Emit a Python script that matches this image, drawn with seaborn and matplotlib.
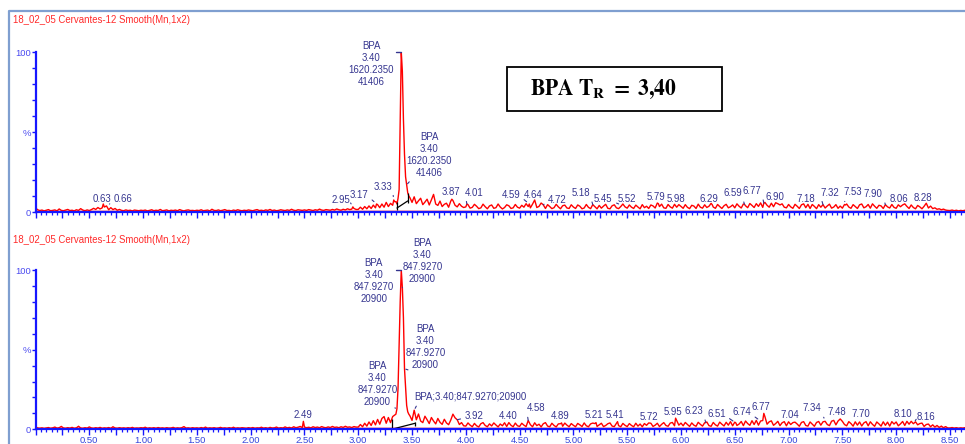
import numpy as np
import pandas as pd
import matplotlib
matplotlib.use("Agg")
import matplotlib.pyplot as plt
import seaborn as sns
from matplotlib.ticker import MultipleLocator, FixedLocator, FuncFormatter
from matplotlib.patches import Rectangle
from matplotlib.lines import Line2D

sns.set_style("white")
plt.rcParams["font.family"] = ["Liberation Sans", "DejaVu Sans"]
plt.rcParams["mathtext.fontset"] = "stix"

# ---------------- data ----------------
TITLE = "18_02_05 Cervantes-12 Smooth(Mn,1x2)"
COMPOUND = "BPA"
SCAN_STEP = 0.02          # min between stored scans
RT_MAX = 8.64

# chromatogram 1 (relative intensity, %), one scan every 0.02 min from 0.00
top_scans = [
    2.6, 1.4, 0.9, 1.2, 0.7, 1.1, 1.5, 0.8, 1.0, 1.3, 0.7, 1.9, 1.0, 0.8, 1.2, 1.6, 0.9, 1.1, 0.7, 1.4, 1.0, 2.1, 1.2, 0.8, 1.3,
    0.9, 1.5, 2.3, 1.6, 2.8, 1.9, 2.6, 3.1, 2.2, 1.4, 2.7, 1.5, 2.2, 1.1, 1.6, 1.0, 0.8, 1.3, 0.9, 1.1, 0.7, 1.2, 1.0, 0.8, 1.1,
    0.9, 1.2, 0.7, 1.0, 1.4, 0.8, 1.1, 0.9, 1.6, 0.8, 1.0, 1.3, 0.7, 1.1, 0.9, 1.2, 0.8, 1.5, 1.0, 0.7, 1.1, 1.3, 0.9, 1.0, 0.8,
    1.1, 0.9, 1.4, 0.8, 1.0, 1.2, 0.7, 1.7, 1.0, 0.9, 1.3, 0.8, 1.1, 1.5, 0.9, 1.0, 0.7, 1.2, 0.9, 1.4, 1.0, 0.8, 1.1, 0.9, 1.3,
    1.0, 0.8, 1.2, 1.5, 0.9, 1.1, 0.8, 1.3, 1.0, 1.6, 0.9, 1.2, 0.8, 1.0, 1.4, 1.1, 0.9, 1.3, 1.0, 1.7, 1.1, 0.9, 1.4, 1.2, 1.0,
    1.3, 1.0, 1.5, 1.2, 0.9, 1.4, 1.1, 1.8, 1.2, 1.0, 1.5, 1.3, 1.1, 1.6, 1.2, 1.9, 1.4, 1.1, 1.7, 1.3, 2.0, 1.5, 1.8, 2.2, 1.6,
    1.6, 3.0, 1.7, 3.4, 2.0, 3.8, 2.2, 4.3, 2.6, 4.6, 2.7, 5.0, 3.0, 6.0, 3.4, 5.4, 4.2, 6.4, 5.0, 14.0, 100.0, 58.0, 22.0, 12.0, 9.0,
    6.0, 9.5, 5.2, 7.0, 8.6, 4.6, 6.2, 8.0, 4.4, 7.6, 11.0, 5.0, 4.1, 6.8, 3.4, 4.8, 5.5, 3.0, 6.8, 7.2, 4.2, 3.2, 5.2, 3.6, 2.8,
    3.2, 4.6, 2.4, 2.9, 4.8, 3.6, 2.1, 2.6, 4.9, 3.3, 2.0, 3.8, 4.4, 2.3, 2.7, 5.0, 3.1, 1.9, 2.8, 4.5, 3.9, 2.2, 2.6, 4.7, 3.0,
    2.4, 4.2, 3.0, 5.2, 3.4, 2.6, 4.9, 5.4, 2.8, 3.5, 5.6, 2.9, 2.2, 4.6, 3.4, 2.1, 2.7, 4.8, 3.2, 2.0, 3.9, 4.3, 2.5, 2.2, 4.5,
    3.1, 2.2, 4.4, 3.6, 2.0, 2.5, 4.7, 2.9, 2.1, 5.4, 3.3, 2.0, 4.1, 2.4, 3.7, 4.8, 2.3, 2.0, 3.9, 4.5, 2.6, 2.1, 3.4, 5.0, 3.2,
    2.4, 5.2, 3.0, 2.2, 4.3, 3.1, 2.0, 4.6, 2.7, 3.6, 2.2, 4.4, 3.8, 2.5, 5.6, 3.4, 4.9, 2.6, 2.3, 4.7, 3.2, 2.4, 4.8, 3.0, 5.2,
    3.5, 2.3, 4.6, 2.9, 2.1, 4.2, 3.7, 2.2, 4.9, 3.0, 2.4, 4.5, 2.8, 3.6, 5.4, 3.1, 2.3, 4.7, 3.4, 2.2, 3.9, 4.8, 2.6, 3.3, 4.4,
    2.6, 5.1, 3.6, 2.5, 5.0, 3.9, 2.7, 5.3, 4.1, 2.8, 5.2, 3.5, 5.7, 2.9, 6.0, 4.2, 3.0, 5.5, 3.3, 5.8, 2.7, 4.4, 5.1, 3.0, 2.6,
    4.7, 3.2, 2.3, 4.8, 3.6, 2.2, 4.5, 5.1, 2.7, 3.4, 2.2, 4.7, 3.5, 2.1, 4.6, 3.0, 5.2, 2.5, 3.8, 4.9, 2.4, 3.1, 4.6, 2.3, 3.7,
    2.4, 4.7, 5.0, 3.1, 2.3, 4.6, 3.4, 2.2, 4.5, 5.0, 2.6, 3.3, 4.7, 2.4, 5.1, 3.6, 2.3, 4.2, 3.8, 2.2, 5.0, 3.2, 2.5, 4.7, 2.9,
    2.3, 4.5, 3.3, 2.1, 5.1, 3.5, 2.2, 4.4, 2.8, 2.0, 4.1, 3.2, 2.0, 3.6, 5.4, 2.5, 3.7, 2.1, 2.6, 1.7, 2.0, 1.4, 1.8, 1.2, 1.0,
    0.9, 1.2, 0.8, 1.1, 0.7, 1.0, 0.8, 1.1,
]
# intermediate scans across the BPA peak
top_peak_rt = [3.35, 3.37, 3.39, 3.41, 3.43, 3.45, 3.47]
top_peak_int = [6.5, 8.5, 55.0, 88.0, 36.0, 17.0, 10.0]
# labelled peaks
top_label_rt = [0.63, 0.66, 2.95, 3.17, 3.33, 3.87, 4.01, 4.59, 4.64, 4.72, 5.18, 5.45, 5.52,
                5.79, 5.98, 6.29, 6.59, 6.77, 6.90, 7.18, 7.32, 7.53, 7.90, 8.06, 8.28]
top_label_int = [5.0, 3.8, 3.2, 5.0, 7.5, 8.0, 5.0, 5.0, 7.5, 4.5, 4.6, 4.2, 4.4,
                 5.2, 4.6, 4.6, 4.8, 5.5, 5.2, 4.8, 4.6, 4.4, 4.6, 4.4, 5.5]
top_mass, top_area = "1620.2350", "41406"

# chromatogram 2
bottom_scans = [
    1.6, 0.8, 0.6, 0.9, 0.5, 0.8, 1.1, 0.6, 0.9, 1.4, 0.7, 1.0, 1.8, 0.8, 0.6, 1.0, 0.7, 1.2, 0.6, 0.9, 1.9, 0.8, 0.6, 1.0, 0.7,
    1.5, 0.8, 0.6, 1.0, 0.7, 1.2, 0.6, 0.9, 0.7, 1.1, 0.6, 1.6, 0.8, 0.6, 1.0, 0.7, 0.9, 0.6, 1.0, 0.7, 1.2, 0.6, 0.8, 0.7, 1.0,
    0.8, 1.3, 0.6, 0.9, 0.7, 1.0, 0.6, 1.1, 0.7, 0.9, 0.6, 1.0, 0.7, 0.8, 1.2, 0.6, 0.9, 0.7, 1.0, 1.7, 0.7, 0.9, 0.6, 1.0, 0.7,
    0.9, 0.6, 1.1, 0.7, 1.4, 0.6, 0.9, 0.7, 1.0, 0.6, 0.8, 1.2, 0.7, 0.9, 0.6, 1.0, 0.7, 1.3, 0.6, 0.9, 0.7, 1.0, 0.8, 0.6, 1.0,
    0.7, 1.1, 0.6, 0.9, 0.8, 1.3, 0.7, 1.0, 0.6, 1.2, 0.8, 0.9, 1.4, 0.7, 1.0, 0.8, 1.5, 0.9, 1.2, 0.8, 1.6, 1.0, 1.3, 1.8, 1.1,
    1.4, 1.0, 1.3, 0.9, 1.6, 1.1, 1.4, 1.0, 1.7, 1.2, 1.0, 1.5, 1.1, 1.8, 1.2, 1.4, 1.0, 1.6, 1.2, 1.9, 1.3, 1.5, 1.1, 1.7, 1.4,
    1.4, 3.0, 1.6, 3.8, 2.0, 4.6, 2.4, 5.4, 2.8, 6.2, 3.2, 6.8, 8.0, 3.8, 7.4, 4.2, 8.0, 9.0, 13.0, 52.0, 100.0, 70.0, 26.0, 11.0, 8.5,
    5.6, 12.0, 6.0, 9.6, 5.2, 4.2, 8.2, 6.0, 3.6, 7.4, 5.2, 3.4, 6.8, 4.4, 3.1, 6.3, 4.0, 2.9, 5.8, 9.5, 7.2, 5.5, 3.0, 4.2, 2.2,
    2.0, 4.0, 2.6, 1.6, 3.7, 2.2, 1.5, 3.5, 4.2, 2.4, 1.6, 3.4, 2.1, 4.0, 2.7, 1.5, 3.3, 2.2, 4.1, 1.8, 3.6, 2.5, 1.6, 3.9, 2.2,
    1.8, 3.8, 2.6, 1.7, 4.6, 2.9, 1.6, 4.1, 2.3, 3.2, 1.5, 3.5, 4.2, 2.0, 1.6, 3.8, 2.4, 1.5, 3.4, 3.5, 1.9, 3.9, 2.6, 1.6, 3.6,
    2.5, 1.6, 3.7, 2.8, 1.7, 4.0, 2.2, 1.6, 3.4, 3.9, 3.6, 1.8, 2.8, 3.8, 1.7, 2.4, 3.5, 4.0, 2.0, 1.7, 3.7, 2.3, 1.6, 3.7, 2.5,
    1.7, 3.6, 2.4, 1.6, 3.8, 2.0, 3.3, 1.6, 3.6, 2.5, 4.0, 3.4, 1.8, 2.6, 3.8, 1.7, 3.1, 4.2, 2.4, 1.9, 3.9, 4.3, 2.2, 5.5, 2.6,
    3.9, 2.2, 4.3, 3.0, 1.8, 4.0, 2.6, 1.9, 4.4, 3.1, 2.0, 4.1, 4.6, 2.3, 1.9, 4.3, 2.8, 2.0, 4.5, 3.2, 2.1, 4.4, 2.6, 4.8, 2.2,
    4.5, 2.4, 3.3, 4.9, 2.3, 5.2, 3.6, 2.5, 5.4, 3.0, 5.6, 2.6, 4.0, 5.5, 8.0, 3.2, 4.7, 5.3, 2.5, 3.6, 5.0, 2.3, 4.1, 4.8, 2.2,
    4.7, 3.0, 2.0, 4.5, 3.3, 1.9, 4.3, 4.8, 2.4, 2.0, 4.6, 3.2, 1.9, 4.3, 4.9, 2.6, 4.7, 5.4, 3.0, 2.3, 5.1, 5.6, 2.8, 5.2, 5.0,
    5.0, 3.0, 2.2, 4.8, 3.6, 2.0, 4.7, 2.6, 4.6, 2.1, 3.5, 4.8, 2.2, 4.7, 3.1, 1.9, 4.6, 3.4, 2.0, 4.7, 2.5, 4.5, 2.0, 4.8, 3.3,
    4.6, 2.2, 3.4, 4.9, 2.4, 5.1, 3.2, 5.0, 2.3, 4.7, 2.8, 3.6, 3.9, 1.8, 3.0, 3.3, 1.6, 2.8, 1.4, 2.4, 1.2, 2.0, 1.0, 1.7, 0.8,
    0.8, 1.1, 0.7, 1.0, 0.6, 0.9, 0.7, 1.0,
]
bottom_peak_rt = [3.35, 3.37, 3.39, 3.41, 3.43, 3.45, 3.47]
bottom_peak_int = [9.5, 26.0, 80.0, 89.0, 38.0, 15.0, 9.5]
bottom_label_rt = [2.49, 3.92, 4.40, 4.58, 4.89, 5.21, 5.41, 5.72, 5.95, 6.23, 6.51, 6.74,
                   6.77, 7.04, 7.34, 7.48, 7.70, 8.10, 8.16]
bottom_label_int = [5.0, 6.0, 4.2, 5.5, 4.0, 4.2, 4.8, 3.8, 7.0, 4.2, 4.0, 5.2,
                    10.0, 4.2, 5.0, 6.5, 4.0, 5.0, 3.5]
bottom_mass, bottom_area = "847.9270", "20900"

BPA_RT = 3.40
BPA_INT = 100.0

# integration baselines (rt, intensity) for the BPA peak
top_integration = [(3.36, 2.5), (3.46, 6.9)]
bottom_integration = [(3.31, 0.0), (3.53, 3.8)]

# ---------------- layout / style ----------------
W, H = 965, 444
X0 = 35.5                   # pixel column of rt = 0
TRACE = "#ff0000"
AXIS = "#1616ff"
LABEL = "#35358f"
TICKTXT = "#3344dd"
FS = 6.9

# label placement: (dx, dy) pixel offset of text centre from the peak apex, leader line?
top_label_pos = [(-1, 5.5, False), (16.5, 6.5, True), (-12, 6.5, True), (-17.6, 9.5, True),
                 (-10.8, 13.5, True), (-1, 7, False), (7.5, 11.5, True), (-18.4, 9.5, True),
                 (-1.3, 5.5, False), (14, 5.3, True), (-12, 11.6, True), (-18.4, 5.8, True),
                 (-2.4, 5.5, False), (-2.5, 6.7, False), (-3, 5.3, False), (-3.3, 5.3, False),
                 (-12, 11.3, True), (-11.5, 12.2, True), (-3, 6.2, False), (-2, 5.8, False),
                 (6.4, 12.1, True), (6.8, 12.5, True), (-12, 10.6, True), (-3.7, 5.5, False),
                 (-3, 5.5, False)]
bottom_label_pos = [(-0.7, 6, False), (16.7, 3.7, True), (-1, 6.9, False), (7.7, 12.2, True),
                    (-1.7, 7.2, False), (-2.1, 7.6, False), (-2.6, 6.7, False), (-2, 6.5, False),
                    (-2.7, 5.8, False), (-11.8, 11.6, True), (-19.5, 8.9, True), (-18.7, 8.7, True),
                    (-3, 6.1, False), (-3, 7.6, False), (-13.3, 13, True), (-3.3, 6.6, False),
                    (-3, 8.9, False), (-3.7, 7.3, False), (12.5, 7, True)]


def build_trace(scans, peak_rt, peak_int, label_rt, label_int):
    grid_rt = np.round(np.arange(len(scans)) * SCAN_STEP, 2)
    df = pd.DataFrame({
        "rt": np.concatenate([grid_rt, peak_rt, label_rt, [BPA_RT]]),
        "intensity": np.concatenate([scans, peak_int, label_int, [BPA_INT]]),
        "rank": [0] * len(scans) + [1] * len(peak_rt) + [2] * (len(label_rt) + 1),
    })
    df["rt"] = df["rt"].round(2)
    df = df.sort_values(["rt", "rank"]).drop_duplicates("rt", keep="last")
    return df.reset_index(drop=True)


def px_axes(top, bottom):
    return [X0 / W, 1 - bottom / H, (W - X0) / W, (bottom - top) / H]


def style_axes(ax, show_xlabels):
    ax.set_xlim(0, RT_MAX)
    ax.set_ylim(0, 100)
    ax.set_xlabel("")
    ax.set_ylabel("")
    for s in ("top", "right"):
        ax.spines[s].set_visible(False)
    for s in ("left", "bottom"):
        ax.spines[s].set_color(AXIS)
        ax.spines[s].set_linewidth(1.6)
        ax.spines[s].set_zorder(5)
    ax.xaxis.set_major_locator(MultipleLocator(0.25))
    ax.xaxis.set_minor_locator(MultipleLocator(0.05))

    def fmt(v, _):
        if show_xlabels and v > 0.01 and abs(v * 2 - round(v * 2)) < 1e-6:
            return f"{v:.2f}"
        return ""
    ax.xaxis.set_major_formatter(FuncFormatter(fmt))
    ax.tick_params(axis="x", which="major", direction="out", length=4.2, width=1.0,
                   color=AXIS, labelcolor=TICKTXT, labelsize=6.8, pad=0.5, bottom=True)
    ax.tick_params(axis="x", which="minor", direction="out", length=2.4, width=0.9,
                   color=AXIS, bottom=True)
    ax.set_yticks([0, 50, 100])
    ax.set_yticklabels(["0", "%", "100"])
    ax.yaxis.set_minor_locator(FixedLocator([10, 20, 30, 40, 60, 70, 80, 90]))
    ax.tick_params(axis="y", which="both", direction="out", length=2.6, width=1.0,
                   color=AXIS, labelcolor="#4a4af0", labelsize=6.8, pad=0.8, left=True)
    ax.grid(False)


def label_peaks(ax, rts, ints, pos):
    for rt, it, (dx, dy, leader) in zip(rts, ints, pos):
        kw = {}
        if leader:
            rel_x = 1.0 if dx < 0 else 0.0
            kw["arrowprops"] = dict(arrowstyle="-", color=LABEL, lw=0.8,
                                    shrinkA=0.5, shrinkB=2.5, relpos=(rel_x, 0.3))
        ax.annotate(f"{rt:.2f}", xy=(rt, it), xytext=(dx, dy), textcoords="offset pixels",
                    ha="center", va="center", fontsize=FS, color=LABEL,
                    annotation_clip=False, zorder=6, **kw)


def bpa_text(mass, area, sep="\n"):
    return sep.join([COMPOUND, f"{BPA_RT:.2f}", mass, area])


def apex_dash(ax):
    ax.plot([BPA_RT - 0.05, BPA_RT], [BPA_INT, BPA_INT], color=LABEL, lw=1.0,
            clip_on=False, zorder=6)


def integration(ax, pts, tick_hi):
    (r0, i0), (r1, i1) = pts
    ax.plot([r0, r1], [i0, i1], color="black", lw=0.9, zorder=4)
    ax.vlines([r0, r1], [max(i0 - 1.5, 0), max(i1 - 1.5, 0)], [i0 + tick_hi[0], i1 + tick_hi[1]],
              color="black", lw=0.9, zorder=4)


def peak_value(df, rt):
    return float(df.loc[np.isclose(df["rt"], rt), "intensity"].iloc[0])


fig = plt.figure(figsize=(W / 100, H / 100), dpi=100)
fig.patch.set_facecolor("white")

top = build_trace(top_scans, top_peak_rt, top_peak_int, top_label_rt, top_label_int)
bottom = build_trace(bottom_scans, bottom_peak_rt, bottom_peak_int, bottom_label_rt, bottom_label_int)

ax1 = fig.add_axes(px_axes(52, 212))
ax2 = fig.add_axes(px_axes(270, 429.3))

for ax, df, show in ((ax1, top, False), (ax2, bottom, True)):
    ax.set_facecolor("white")
    ax.axhline(0.7, color="#ffb0b0", lw=1.3, zorder=1)
    sns.lineplot(data=df, x="rt", y="intensity", ax=ax, color=TRACE, linewidth=1.0,
                 estimator=None, sort=False, zorder=3)
    style_axes(ax, show)
    apex_dash(ax)

# --- upper chromatogram annotations
label_peaks(ax1, top_label_rt, top_label_int, top_label_pos)
ax1.annotate(bpa_text(top_mass, top_area), xy=(BPA_RT, BPA_INT), xytext=(-30, -12),
             textcoords="offset pixels", ha="center", va="center", fontsize=FS,
             color=LABEL, annotation_clip=False, zorder=6, linespacing=1.25)
ax1.annotate(bpa_text(top_mass, top_area), xy=(3.45, peak_value(top, 3.45)), xytext=(22.3, 30.3),
             textcoords="offset pixels", ha="center", va="center", fontsize=FS,
             color=LABEL, annotation_clip=False, zorder=6, linespacing=1.25,
             arrowprops=dict(arrowstyle="-", color=LABEL, lw=0.8, shrinkA=1, shrinkB=1,
                             relpos=(0.15, 0.0)))
integration(ax1, top_integration, (3.9, 5.1))

# --- lower chromatogram annotations
label_peaks(ax2, bottom_label_rt, bottom_label_int, bottom_label_pos)
main_kw = dict(textcoords="offset pixels", ha="center", va="center", fontsize=FS,
               color=LABEL, annotation_clip=False, zorder=6, linespacing=1.25)
ax2.annotate(bpa_text(bottom_mass, bottom_area), xy=(3.41, peak_value(bottom, 3.41)),
             xytext=(20.1, 26.3),
             arrowprops=dict(arrowstyle="-", color=LABEL, lw=0.8, shrinkA=1, shrinkB=1,
                             relpos=(0.15, 0.0)), **main_kw)
ax2.annotate(bpa_text(bottom_mass, bottom_area), xy=(3.39, peak_value(bottom, 3.39)),
             xytext=(-26.3, 20.4), **main_kw)
ax2.annotate(bpa_text(bottom_mass, bottom_area), xy=(3.43, peak_value(bottom, 3.43)),
             xytext=(20.9, 21.5),
             arrowprops=dict(arrowstyle="-", color=LABEL, lw=0.8, shrinkA=1, shrinkB=1,
                             relpos=(0.1, 0.0)), **main_kw)
ax2.annotate(bpa_text(bottom_mass, bottom_area), xy=(3.36, peak_value(bottom, 3.36)),
             xytext=(-19.5, 24.1),
             arrowprops=dict(arrowstyle="-", color=LABEL, lw=0.8, shrinkA=1, shrinkB=1,
                             relpos=(0.9, 0.0)), **main_kw)
ax2.annotate(bpa_text(bottom_mass, bottom_area, sep=";"), xy=(3.52, peak_value(bottom, 3.52)),
             xytext=(0, 13.5), textcoords="offset pixels", ha="left", va="center",
             fontsize=FS, color=LABEL, annotation_clip=False, zorder=6,
             arrowprops=dict(arrowstyle="-", color=LABEL, lw=0.8, shrinkA=1, shrinkB=1.5,
                             relpos=(0.04, 0.0)))
integration(ax2, bottom_integration, (6.3, 1.0))

# --- titles, frame and retention-time box
for y in (20, 240):
    fig.text(13 / W, 1 - y / H, TITLE, color="#ff2a2a", fontsize=6.9, ha="left", va="center")

fig.add_artist(Line2D([8.5 / W, 8.5 / W, 1.0], [0.0, 1 - 11 / H, 1 - 11 / H],
                      transform=fig.transFigure, color="#7f9fd0", lw=1.6))
fig.add_artist(Rectangle((506.7 / W, 1 - 111 / H), (721.7 - 506.7) / W, (111 - 67.3) / H,
                         transform=fig.transFigure, fill=False, edgecolor="black", lw=1.3))
fig.text(602.9 / W, 1 - 89 / H, r"$\mathbf{BPA\ T_{R}\ {=}\ 3{,}40}$", fontsize=15.5,
         ha="center", va="center", color="black")

fig.savefig("out.png", dpi=100, facecolor="white")
